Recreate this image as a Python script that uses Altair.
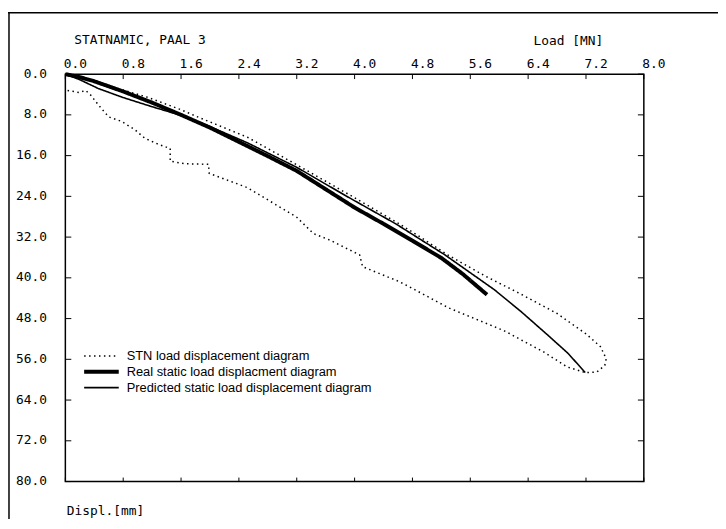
import altair as alt
import pandas as pd

# ---- data ----
series_names = ["STN load displacement diagram",
                "Real static load displacment diagram",
                "Predicted static load displacement diagram"]

stn_load = [0, 0.3, 0.6, 1.15, 1.6, 1.83, 2.52, 3.2, 3.88, 4.57, 4.8, 5.3, 5.8, 6.3, 6.8,
            7.2, 7.4, 7.48, 7.46, 7.35, 7.19, 6.94, 6.62, 6.07, 5.3, 4.75, 4.61, 4.11, 4.07,
            3.66, 3.43, 3.2, 2.52, 2.2, 1.99, 1.98, 1.65, 1.45, 1.45, 1.29, 1.10, 0.96, 0.78,
            0.60, 0.46, 0.35, 0.28, 0.19, 0.03, 0.0]
stn_disp = [0, 0.9, 2.3, 4.6, 7.0, 8.4, 12.4, 17.8, 23.3, 29.0, 31.0, 35.6, 39.6, 43.2, 47.0,
            51.0, 53.5, 55.9, 57.2, 58.5, 58.6, 57.5, 54.6, 50.4, 45.9, 41.7, 40.7, 37.8, 35.5,
            32.6, 31.3, 28.1, 22.3, 20.6, 19.5, 17.7, 17.6, 17.1, 14.6, 13.8, 12.6, 10.9, 9.3,
            8.4, 6.1, 4.1, 3.2, 3.6, 3.2, 3.2]

real_load = [0, 0.2, 0.4, 0.8, 1.2, 1.6, 2.0, 2.4, 2.8, 3.2, 3.6, 4.0, 4.4, 4.8, 5.2, 5.5, 5.83]
real_disp = [0, 0.6, 1.4, 3.4, 5.6, 8.0, 10.5, 13.3, 16.1, 19.0, 22.6, 26.2, 29.4, 32.7, 36.1, 39.3, 43.3]

pred_load = [0, 0.2, 0.46, 0.8, 1.2, 1.6, 2.0, 2.52, 3.2, 3.88, 4.57, 5.25, 5.93, 6.3, 6.66, 6.95, 7.19]
pred_disp = [0, 1.1, 2.85, 4.6, 6.4, 8.1, 10.3, 13.5, 18.3, 23.9, 29.4, 35.5, 42.3, 46.6, 51.1, 54.8, 58.6]

x_ticks = [0.0, 0.8, 1.6, 2.4, 3.2, 4.0, 4.8, 5.6, 6.4, 7.2, 8.0]
y_ticks = [0, 8, 16, 24, 32, 40, 48, 56, 64, 72, 80]

rows = []
for name, xs_, ys_ in zip(series_names, [stn_load, real_load, pred_load], [stn_disp, real_disp, pred_disp]):
    for i, (a, b) in enumerate(zip(xs_, ys_)):
        rows.append({"series": name, "load": a, "disp": b, "idx": i})
df = pd.DataFrame(rows)
df_xt = pd.DataFrame({"load": x_ticks})
df_yt = pd.DataFrame({"disp": y_ticks})

W, H = 585, 412
MONO = "DejaVu Sans Mono"

xs = alt.Scale(domain=[0, 8], nice=False, zero=False)
ys = alt.Scale(domain=[0, 80], nice=False, zero=False, reverse=True)

xaxis = alt.Axis(orient="top", values=x_ticks, format=".1f", tickSize=0, domain=False,
                 labelAlign="left", labelOffset=-2, labelBaseline="alphabetic", labelPadding=7,
                 labelFlush=False, labelOverlap=False, labelFont=MONO, labelFontSize=13,
                 labelColor="black", grid=False,
                 title="Load [MN]", titleFont=MONO, titleFontSize=13, titleFontWeight="normal",
                 titleColor="black", titleX=473, titleY=-30, titleAlign="left",
                 titleBaseline="alphabetic", titleAnchor="start")
yaxis = alt.Axis(orient="left", values=y_ticks, format=".1f", tickSize=0, domain=False,
                 labelAlign="right", labelBaseline="middle", labelPadding=19, labelOffset=-1,
                 labelFlush=False, labelOverlap=False, labelFont=MONO, labelFontSize=13,
                 labelColor="black", grid=False,
                 title="Displ.[mm]", titleFont=MONO, titleFontSize=13, titleFontWeight="normal",
                 titleColor="black", titleAngle=0, titleX=1, titleY=445, titleAlign="left",
                 titleBaseline="alphabetic", titleAnchor="start")

X = alt.X("load:Q", scale=xs, axis=xaxis)
Y = alt.Y("disp:Q", scale=ys, axis=yaxis)

leg = alt.Legend(title=None, orient="none", legendX=17, legendY=277, symbolType="stroke",
                 symbolSize=1225, symbolStrokeColor="black", labelFont="Liberation Sans",
                 labelFontSize=13, labelColor="black", labelOffset=6, rowPadding=0,
                 clipHeight=16, padding=0, labelLimit=500)

lines = alt.Chart(df).mark_line(color="black").encode(
    x=X, y=Y,
    order=alt.Order("idx:Q"),
    strokeDash=alt.StrokeDash("series:N", scale=alt.Scale(domain=series_names,
                              range=[[1.5, 3.5], [1, 0], [1, 0]]), legend=leg),
    strokeWidth=alt.StrokeWidth("series:N", scale=alt.Scale(type="ordinal", domain=series_names,
                                range=[1.5, 4, 1.6]), legend=leg),
)

top_ticks = alt.Chart(df_xt).mark_rule(color="black", strokeWidth=1).encode(
    x=X, y=alt.value(0), y2=alt.value(5))
bot_ticks = alt.Chart(df_xt).mark_rule(color="black", strokeWidth=1).encode(
    x=X, y=alt.value(H), y2=alt.value(H - 4))
left_ticks = alt.Chart(df_yt).mark_rule(color="black", strokeWidth=1).encode(
    y=Y, x=alt.value(0), x2=alt.value(6))
right_ticks = alt.Chart(df_yt).mark_rule(color="black", strokeWidth=1).encode(
    y=Y, x=alt.value(W), x2=alt.value(W - 6))

one = alt.Data(values=[{"t": "STATNAMIC, PAAL 3"}])
title_txt = alt.Chart(one).mark_text(font=MONO, fontSize=13, align="left",
                                     baseline="alphabetic", color="black").encode(
    x=alt.value(9), y=alt.value(-30), text="t:N")
border_top = alt.Chart(one).mark_rule(color="black", strokeWidth=1.5).encode(
    x=alt.value(-58), x2=alt.value(W + 80), y=alt.value(-62))
border_left = alt.Chart(one).mark_rule(color="black", strokeWidth=1.5).encode(
    x=alt.value(-57), y=alt.value(-62), y2=alt.value(H + 40))

chart = alt.layer(
    border_top, border_left, title_txt,
    top_ticks, bot_ticks, left_ticks, right_ticks, lines
).properties(
    width=W, height=H,
    autosize=alt.AutoSizeParams(type="none"),
    padding={"left": 58, "top": 64, "right": 75, "bottom": 35},
).configure(background="white", view=alt.ViewConfig(stroke="black", strokeWidth=1.5))

chart.save("out.html", embed_options={"renderer": "svg", "actions": False})
